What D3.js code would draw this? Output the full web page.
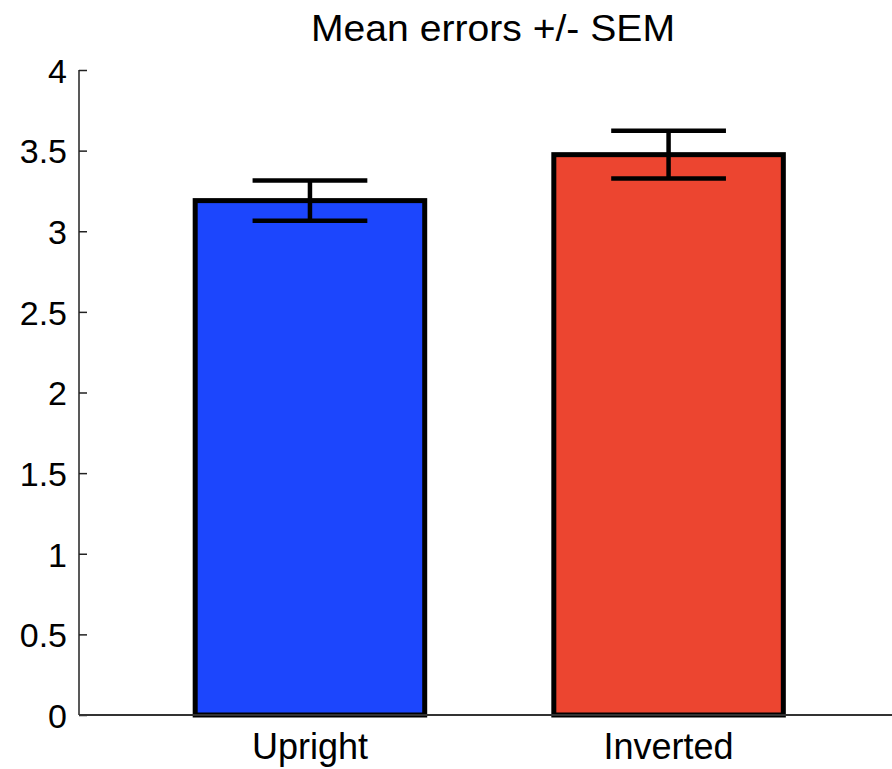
<!DOCTYPE html>
<html>
<head>
<meta charset="utf-8">
<script src="https://cdn.jsdelivr.net/npm/d3@7"></script>
<style>
  html, body { margin: 0; padding: 0; background: #fff; }
  text { font-family: "Liberation Sans", Arial, sans-serif; }
</style>
</head>
<body>
<div id="chart"></div>
<script>
// data
const categories = ["Upright", "Inverted"];
const positions = [1, 2];
const means = [3.19, 3.475];
const sems = [0.125, 0.148];
const barColors = ["#1c46fd", "#ec4530"];
const yTicks = [0, 0.5, 1, 1.5, 2, 2.5, 3, 3.5, 4];
const title = "Mean errors +/- SEM";

const width = 892;
const height = 769;
const margin = { top: 70, left: 79, bottom: 54, right: 0 };

const svg = d3
  .select("#chart")
  .append("svg")
  .attr("width", width)
  .attr("height", height);

const x = d3
  .scaleLinear()
  .domain([0.356, 2.623])
  .range([margin.left, width - margin.right]);

const y = d3
  .scaleLinear()
  .domain([0, 4])
  .range([height - margin.bottom, margin.top]);

const barWidth = 0.64;

// bars
svg
  .selectAll("rect.bar")
  .data(positions)
  .enter()
  .append("rect")
  .attr("class", "bar")
  .attr("x", (d) => x(d - barWidth / 2))
  .attr("y", (d, i) => y(means[i]))
  .attr("width", (d) => x(d + barWidth / 2) - x(d - barWidth / 2))
  .attr("height", (d, i) => y(0) - y(means[i]))
  .attr("fill", (d, i) => barColors[i])
  .attr("stroke", "#000")
  .attr("stroke-width", 5);

// error bars
const capHalf = 0.16;
positions.forEach((p, i) => {
  const lo = means[i] - sems[i];
  const hi = means[i] + sems[i];
  const g = svg.append("g").attr("stroke", "#000").attr("stroke-width", 4.5);
  g.append("line").attr("x1", x(p)).attr("x2", x(p)).attr("y1", y(lo)).attr("y2", y(hi));
  [lo, hi].forEach((v) => {
    g.append("line")
      .attr("x1", x(p - capHalf))
      .attr("x2", x(p + capHalf))
      .attr("y1", y(v))
      .attr("y2", y(v));
  });
});

// y axis (ticks pointing inward)
const yAxis = svg
  .append("g")
  .attr("transform", `translate(${margin.left}, 0)`)
  .call(d3.axisRight(y).tickValues(yTicks).tickSize(8).tickFormat(d3.format("")));
yAxis.select(".domain").remove();
yAxis.selectAll(".tick line").attr("stroke", "#222").attr("stroke-width", 1.5);
yAxis
  .selectAll(".tick text")
  .attr("x", -12)
  .attr("dy", "0.36em")
  .attr("text-anchor", "end")
  .attr("fill", "#000")
  .style("font-size", "34px");
yAxis.attr("font-size", null).attr("font-family", null);

svg
  .append("line")
  .attr("x1", margin.left)
  .attr("x2", margin.left)
  .attr("y1", y(4))
  .attr("y2", y(0))
  .attr("stroke", "#222")
  .attr("stroke-width", 1.5);

// x axis line
svg
  .append("line")
  .attr("x1", margin.left)
  .attr("x2", width)
  .attr("y1", y(0))
  .attr("y2", y(0))
  .attr("stroke", "#333")
  .attr("stroke-width", 2);

// category labels
svg
  .selectAll("text.cat")
  .data(categories)
  .enter()
  .append("text")
  .attr("class", "cat")
  .attr("x", (d, i) => x(positions[i]))
  .attr("y", 759)
  .attr("text-anchor", "middle")
  .style("font-size", "36px")
  .text((d) => d);

// title
svg
  .append("text")
  .attr("x", 493)
  .attr("y", 41)
  .attr("text-anchor", "middle")
  .attr("textLength", 364)
  .attr("lengthAdjust", "spacingAndGlyphs")
  .style("font-size", "37px")
  .text(title);
</script>
</body>
</html>
